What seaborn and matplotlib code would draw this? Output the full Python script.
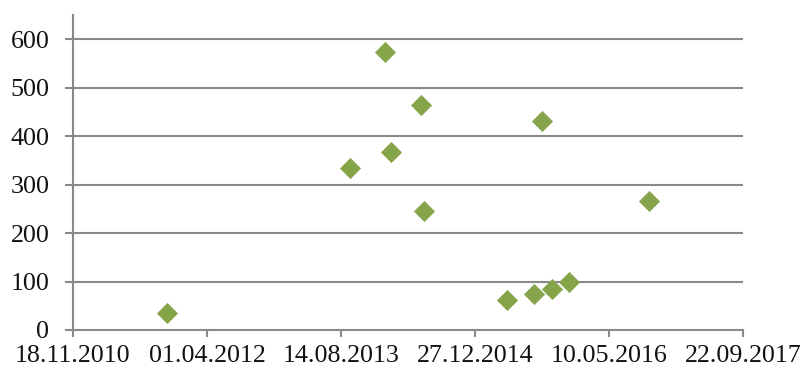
import matplotlib
matplotlib.use("Agg")
import matplotlib.pyplot as plt
import matplotlib.dates as mdates
import numpy as np
import pandas as pd
import seaborn as sns

# Observation dates and measured values
dates = ["2011-11-03", "2013-09-17", "2014-01-25", "2014-02-17", "2014-06-08",
         "2014-06-21", "2015-04-24", "2015-08-05", "2015-09-02", "2015-10-11",
         "2015-12-13", "2016-10-07"]
values = [35, 335, 573, 367, 465, 245, 62, 74, 432, 85, 100, 267]

x_start, x_end = "2010-11-18", "2017-09-22"
y_ticks = [0, 100, 200, 300, 400, 500, 600]

df = pd.DataFrame({"date": pd.to_datetime(dates), "value": values})
df["x"] = mdates.date2num(df["date"])

sns.set_theme(style="white")
plt.rcParams["font.family"] = ["Liberation Serif", "DejaVu Serif"]

fig = plt.figure(figsize=(8.05, 3.73), dpi=100)
ax = fig.add_axes([73 / 805, 43 / 373, 670 / 805, 315 / 373])

grid_col = "#898989"
for y in y_ticks[1:]:
    ax.axhline(y, color=grid_col, lw=1.5, zorder=0)

sns.scatterplot(data=df, x="x", y="value", marker="D", s=105,
                color="#86A44A", edgecolor="#86A44A", linewidth=0.5,
                ax=ax, zorder=3, legend=False)

x0 = mdates.date2num(pd.Timestamp(x_start))
x1 = mdates.date2num(pd.Timestamp(x_end))
ax.set_xlim(x0, x1)
ax.set_ylim(0, 650)
xt = np.arange(x0, x1 + 1, 500)
ax.set_xticks(xt)
ax.set_xticklabels([mdates.num2date(v).strftime("%d.%m.%Y") for v in xt])
ax.set_yticks(y_ticks)
ax.set_xlabel("")
ax.set_ylabel("")

for side in ["top", "right"]:
    ax.spines[side].set_visible(False)
for side in ["left", "bottom"]:
    ax.spines[side].set_color(grid_col)
    ax.spines[side].set_linewidth(1.5)

ax.tick_params(axis="y", which="major", direction="out", length=6, width=1.5,
               color=grid_col, labelsize=18.7, pad=11, left=True)
ax.tick_params(axis="x", which="major", direction="out", length=5, width=1.5,
               color=grid_col, labelsize=18.7, pad=6, bottom=True)
for lab in ax.get_xticklabels() + ax.get_yticklabels():
    lab.set_color("#111111")

fig.savefig("out.png", dpi=100)
